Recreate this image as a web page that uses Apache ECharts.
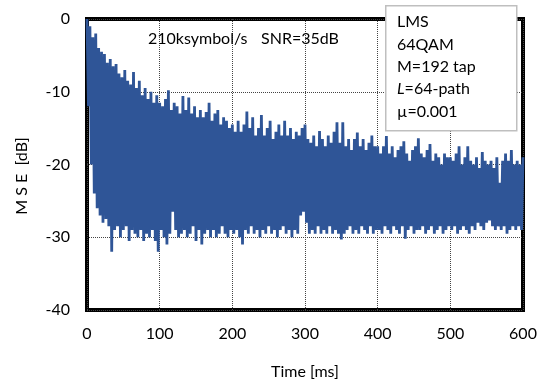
<!DOCTYPE html>
<html>
<head>
<meta charset="utf-8">
<script src="https://cdn.jsdelivr.net/npm/echarts@6/dist/echarts.min.js"></script>
<style>
html,body{margin:0;padding:0;background:#fff;}
#chart{width:541px;height:383px;}
</style>
</head>
<body>
<div id="chart"></div>
<script>
// ---- data (MSE in dB, sampled every 2 ms) ----
const sampleStepMs = 2;
const mse000 = [0, -12, -1, -20, -2.5, -24, -2, -26, -4, -27,
  -4.5, -28, -4.8, -27.5, -6, -28.5, -5.5, -32, -6.5, -29,
  -6.2, -28.5, -7.5, -30, -8, -29, -7, -28.5, -8.5, -30.5,
  -9, -29, -7.3, -29.5, -9.5, -30, -8.5, -29, -10.5, -30.5,
  -9.5, -29.5, -11, -30, -10, -29, -11.5, -30.5, -10.5, -32];
const mse100 = [-11.5, -29, -12, -30, -11, -31, -9.8, -29.5, -12.5, -26.5,
  -11.5, -29, -12, -30, -13, -29.5, -10.6, -29, -12.5, -30,
  -10.8, -29.5, -13, -28.5, -12, -30.5, -13.5, -29, -12.5, -31,
  -13.5, -29.5, -12.8, -29, -11.5, -30, -14, -29, -13, -30,
  -12.5, -29.5, -14.5, -28.5, -13.5, -29.5, -14, -30, -15, -29];
const mse200 = [-14.5, -29.5, -15.5, -29, -14, -30, -15.5, -31, -14.5, -29,
  -12.7, -29.5, -15, -28.5, -13.5, -29.5, -16, -29, -15, -30,
  -13.2, -29, -16, -29.5, -15, -28.5, -14, -29.5, -16.5, -29,
  -15.5, -30, -14.5, -29, -16, -28.5, -14, -29.5, -16, -29,
  -15, -30, -16.5, -29, -15.5, -29.5, -16, -27, -15, -26.5];
const mse300 = [-14.5, -28, -16.5, -29.5, -17, -29, -16, -29.5, -17.5, -28.5,
  -15.4, -29.5, -16.5, -29, -17.5, -29.5, -16, -28.5, -17, -29.5,
  -15.5, -29, -14.2, -29.5, -17, -30.3, -14.2, -29.5, -17.5, -29,
  -16.5, -28.5, -18, -29.5, -16.5, -29, -15.6, -29.5, -17.5, -28.5,
  -16.5, -29, -18, -29.5, -17, -28.5, -16, -29.5, -17.5, -29];
const mse400 = [-17.5, -29, -18.5, -29.5, -17.5, -28.5, -16.1, -29, -18.5, -29.5,
  -17.5, -28.5, -19, -29, -18, -29.5, -17.5, -28.5, -16.8, -30.2,
  -18.5, -29, -19.5, -28.5, -18, -29.5, -17.5, -29, -16.4, -29,
  -18.5, -28.5, -19, -29.5, -18, -29, -17.2, -28.5, -19.5, -29.5,
  -18.5, -29, -19, -28.5, -20, -29.5, -18.5, -29, -19, -28.5];
const mse500 = [-19, -29, -19.5, -28.5, -18.5, -29.5, -17.5, -29, -20, -28.5,
  -19, -29, -17.5, -29.5, -19.5, -28.5, -20, -29, -19, -28,
  -20.5, -28.5, -18.3, -29, -19.5, -28, -20, -27.7, -19.5, -28.5,
  -20.5, -29, -19, -28.5, -22.5, -29, -19.5, -28.5, -18.5, -29.5,
  -19.5, -29, -18, -28.5, -20, -29, -19.5, -28.5, -20, -29,
  -19];
const xTicks = [0, 100, 200, 300, 400, 500, 600];
const yTicks = [-40, -30, -20, -10, 0];
const titleLeft = '210ksymbol/s';
const titleRight = 'SNR=35dB';
const noteLines = ['LMS', '64QAM', 'M=192 tap', '{i|L}=64-path', '\u00B5=0.001'];

const mseDb = [].concat(mse000, mse100, mse200, mse300, mse400, mse500);
const seriesData = mseDb.map((v, i) => [i * sampleStepMs, v]);

const FONT = 'Lato, "Open Sans", sans-serif';
const chart = echarts.init(document.getElementById('chart'), null, {renderer: 'canvas'});

const noteTexts = noteLines.map((t, k) => ({
  type: 'text', left: 397, top: 14 + k * 22.4, z: 101,
  style: {
    text: t, fill: '#000', font: '16px ' + FONT,
    rich: { i: { fontStyle: 'italic', fontSize: 16, fontFamily: FONT, fill: '#000' } }
  }
}));

chart.setOption({
  animation: false,
  backgroundColor: '#fff',
  textStyle: { fontFamily: FONT },
  grid: { left: 87, right: 18, top: 19, bottom: 73, show: true, containLabel: false,
          outerBoundsMode: 'none',
          borderColor: '#000', borderWidth: 4, backgroundColor: 'transparent' },
  xAxis: {
    type: 'value', min: xTicks[0], max: xTicks[xTicks.length - 1], interval: 100,
    name: 'Time [ms]', nameLocation: 'middle', nameGap: 54,
    nameTextStyle: { fontSize: 16, color: '#000', fontFamily: FONT },
    axisLine: { show: false }, axisTick: { show: false },
    axisLabel: { fontSize: 16, color: '#000', margin: 16, fontFamily: FONT },
    splitLine: { show: true, lineStyle: { type: 'dotted', color: '#444', width: 1 } }
  },
  yAxis: {
    type: 'value', min: yTicks[0], max: yTicks[yTicks.length - 1], interval: 10,
    axisLine: { show: false }, axisTick: { show: false },
    axisLabel: { fontSize: 16, color: '#000', margin: 17, fontFamily: FONT },
    splitLine: { show: true, lineStyle: { type: 'dotted', color: '#444', width: 1 } }
  },
  graphic: [
    { type: 'text', left: 148, top: 31, z: 50,
      style: { text: titleLeft, fill: '#000', font: '16px ' + FONT } },
    { type: 'text', left: 261, top: 31, z: 50,
      style: { text: titleRight, fill: '#000', font: '16px ' + FONT } },
    { type: 'text', x: 22, y: 176, rotation: Math.PI / 2, z: 50,
      style: { text: 'M S E  [dB]', fill: '#000', font: '16px ' + FONT,
               align: 'center', verticalAlign: 'middle' } },
    { type: 'rect', left: 385, top: 5, z: 100,
      shape: { width: 131, height: 125 },
      style: { fill: '#fff', stroke: '#BFBFBF', lineWidth: 1.5 } }
  ].concat(noteTexts),
  series: [{
    type: 'line', data: seriesData, showSymbol: false,
    lineStyle: { color: '#2F5597', width: 2.8, join: 'bevel' }, z: 5, clip: false
  }]
});
</script>
</body>
</html>
